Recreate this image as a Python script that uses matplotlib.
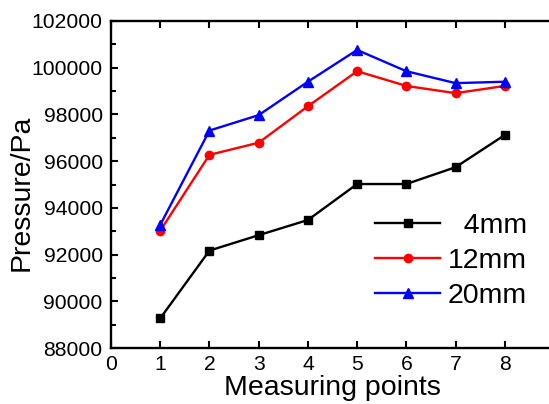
import numpy as np
import matplotlib
matplotlib.use("Agg")
import matplotlib.pyplot as plt
from matplotlib.ticker import MultipleLocator

plt.rcParams['font.family'] = ['Liberation Sans', 'DejaVu Sans']

# pressure readings at the eight measuring points (Pa)
points = [1, 2, 3, 4, 5, 6, 7, 8]
p_4mm = [89270, 92170, 92830, 93480, 95020, 95020, 95740, 97120]
p_12mm = [93020, 96270, 96790, 98350, 99850, 99220, 98910, 99220]
p_20mm = [93270, 97310, 97970, 99400, 100760, 99850, 99340, 99400]
labels = ['  4mm', '12mm', '20mm']

fig = plt.figure(figsize=(5.49, 4.04), dpi=100)
# axes run a bit past the right edge of the canvas
ax = fig.add_axes([111/549, 56/404, 443/549, 327/404])

ax.plot(points, p_4mm, color='black', lw=1.7, marker='s', ms=5.5, label=labels[0])
ax.plot(points, p_12mm, color='red', lw=1.7, marker='o', ms=6, label=labels[1])
ax.plot(points, p_20mm, color='blue', lw=1.7, marker='^', ms=7, label=labels[2])

ax.set_xlim(0, 9)
ax.set_ylim(88000, 102000)
ax.set_xticks(range(0, 9))
ax.yaxis.set_major_locator(MultipleLocator(2000))
ax.yaxis.set_minor_locator(MultipleLocator(1000))

for s in ax.spines.values():
    s.set_linewidth(1.7)

ax.tick_params(axis='both', which='both', direction='in', labelsize=15.2,
               width=1.5, pad=6, top=True)
ax.tick_params(axis='x', pad=5)
ax.tick_params(axis='both', which='major', length=5)
ax.tick_params(axis='y', which='minor', length=3.5)

ax.set_xlabel('Measuring points', fontsize=20.5, labelpad=1)
ax.set_ylabel('Pressure/Pa', fontsize=20.5, labelpad=-2)
ax.yaxis.label.set_y(0.474)

leg = ax.legend(loc='upper left', bbox_to_anchor=(375/549, 1 - 213/404),
                bbox_transform=fig.transFigure, frameon=False, fontsize=20.5,
                handlelength=2.3, handletextpad=0.25, labelspacing=0.32,
                borderpad=0, borderaxespad=0, markerfirst=True)

fig.savefig('out.png', dpi=100)
